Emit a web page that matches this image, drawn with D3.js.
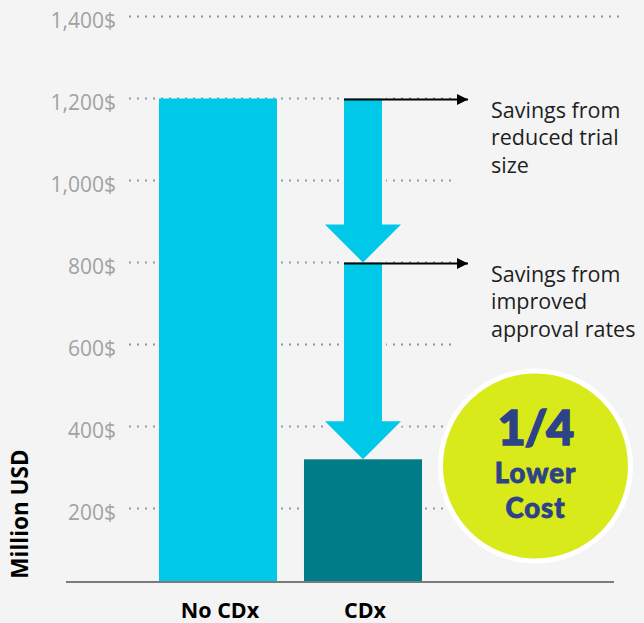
<!DOCTYPE html>
<html>
<head>
<meta charset="utf-8">
<script src="https://cdn.jsdelivr.net/npm/d3@7/dist/d3.min.js"></script>
<style>
  html, body { margin: 0; padding: 0; background: #f4f4f4; }
  svg { display: block; }
</style>
</head>
<body>
<svg id="chart" width="644" height="623"></svg>
<script>
// Development cost, million USD
const categories = ["No CDx", "CDx"];
const costs = [1200, 320];
const tickValues = [200, 400, 600, 800, 1000, 1200, 1400];
// Savings steps drawn as arrows down the CDx column: [from, to]
const savingsSteps = [[1200, 800], [800, 320]];
const savingsNotes = [
  { at: 1200, lines: ["Savings from", "reduced trial", "size"] },
  { at: 800, lines: ["Savings from", "improved", "approval rates"] }
];
const badgeHead = "1/4";
const badgeLines = ["Lower", "Cost"];
const axisTitle = "Million USD";

const W = 644, H = 623;
const svg = d3.select("#chart");
const FONT = "'Open Sans', Lato, sans-serif";
const BADGE = "Lato, 'Open Sans', sans-serif";

svg.append("rect").attr("width", W).attr("height", H).attr("fill", "#f4f4f4");

const y = d3.scaleLinear().domain([0, 1400]).range([590.5, 16.5]);
const x = d3.scaleBand().domain(categories).range([159, 422])
  .paddingInner(0.186).paddingOuter(0);
const baseY = 582;

// Dotted gridlines
svg.append("g").selectAll("line").data(tickValues).join("line")
  .attr("x1", 129)
  .attr("x2", d => d === d3.max(tickValues) ? 620 : 451)
  .attr("y1", d => y(d)).attr("y2", d => y(d))
  .attr("stroke", "#8e98b8").attr("stroke-width", 2)
  .attr("stroke-dasharray", "2,6");

// Tick labels
svg.append("g").selectAll("text").data(tickValues).join("text")
  .attr("x", 116).attr("y", d => y(d) + 3)
  .attr("text-anchor", "end").attr("dominant-baseline", "central")
  .attr("font-family", FONT).attr("font-size", 21).attr("font-weight", 400)
  .attr("fill", "#a2a2a2")
  .text(d => d3.format(",")(d) + "$");

// Block arrows for savings steps
const cx = x("CDx") + x.bandwidth() / 2;
const shaftHalf = 19, headHalf = 38, headLen = 38;
function arrowPath([from, to]) {
  const y0 = y(from), y1 = y(to), yh = y1 - headLen;
  return `M${cx - shaftHalf},${y0} L${cx + shaftHalf},${y0} L${cx + shaftHalf},${yh}
          L${cx + headHalf},${yh} L${cx},${y1} L${cx - headHalf},${yh}
          L${cx - shaftHalf},${yh} Z`;
}
// background halo keeps the dotted gridlines clear of the arrows
svg.append("g").selectAll("path").data(savingsSteps).join("path")
  .attr("d", arrowPath)
  .attr("fill", "#f4f4f4").attr("stroke", "#f4f4f4")
  .attr("stroke-width", 8).attr("stroke-linejoin", "miter");

// Bars
const barColors = ["#00c8e9", "#007c88"];
svg.append("g").selectAll("rect").data(costs).join("rect")
  .attr("x", (d, i) => x(categories[i]))
  .attr("width", x.bandwidth())
  .attr("y", d => y(d))
  .attr("height", d => baseY - y(d))
  .attr("fill", (d, i) => barColors[i]);

svg.append("g").selectAll("path").data(savingsSteps).join("path")
  .attr("d", arrowPath)
  .attr("fill", "#00c8e9");

// Pointer lines to notes
svg.append("defs").append("marker")
  .attr("id", "tip").attr("viewBox", "0 0 10 10")
  .attr("refX", 10).attr("refY", 5)
  .attr("markerWidth", 12).attr("markerHeight", 11)
  .attr("markerUnits", "userSpaceOnUse").attr("orient", "auto")
  .append("path").attr("d", "M0,0 L10,5 L0,10 Z").attr("fill", "#000");

svg.append("g").selectAll("line").data(savingsNotes).join("line")
  .attr("x1", cx - shaftHalf).attr("x2", 468)
  .attr("y1", d => y(d.at) + 1).attr("y2", d => y(d.at) + 1)
  .attr("stroke", "#000").attr("stroke-width", 2.2)
  .attr("marker-end", "url(#tip)");

const notes = svg.append("g").selectAll("text").data(savingsNotes).join("text")
  .attr("font-family", FONT).attr("font-size", 21.5).attr("fill", "#1e1e1e")
  .attr("x", 491).attr("y", d => y(d.at) + 19);
notes.selectAll("tspan").data(d => d.lines).join("tspan")
  .attr("x", 491).attr("dy", (d, i) => i === 0 ? 0 : 27.5)
  .text(d => d);

// Baseline
svg.append("line").attr("x1", 66).attr("x2", 614)
  .attr("y1", baseY).attr("y2", baseY)
  .attr("stroke", "#7a7a7a").attr("stroke-width", 2);

// Category labels
svg.append("g").selectAll("text").data(categories).join("text")
  .attr("x", d => x(d) + x.bandwidth() / 2 + 2).attr("y", 618)
  .attr("text-anchor", "middle")
  .attr("font-family", FONT).attr("font-size", 21.5).attr("font-weight", 700)
  .attr("fill", "#000").text(d => d);

// Axis title
svg.append("text")
  .attr("transform", "translate(28,514) rotate(-90)")
  .attr("text-anchor", "middle")
  .attr("font-family", FONT).attr("font-size", 22.5).attr("font-weight", 700)
  .attr("fill", "#000").text(axisTitle);

// Badge
const badge = svg.append("g").attr("transform", "translate(535.5,466)");
badge.append("circle").attr("r", 95)
  .attr("fill", "#d9ea1b").attr("stroke", "#ffffff").attr("stroke-width", 5);
badge.append("text")
  .attr("x", 0).attr("y", -21).attr("text-anchor", "middle")
  .attr("font-family", BADGE).attr("font-weight", 900).attr("font-size", 48)
  .attr("letter-spacing", -1)
  .attr("fill", "#2e4288").attr("stroke", "#2e4288").attr("stroke-width", 1.6)
  .text(badgeHead);
badge.selectAll("text.sub").data(badgeLines).join("text")
  .attr("class", "sub")
  .attr("x", 0).attr("y", (d, i) => 17 + i * 35)
  .attr("text-anchor", "middle")
  .attr("font-family", BADGE).attr("font-weight", 900).attr("font-size", 27.5)
  .attr("letter-spacing", 1)
  .attr("fill", "#2e4288").attr("stroke", "#2e4288").attr("stroke-width", 0.8)
  .text(d => d);
</script>
</body>
</html>
